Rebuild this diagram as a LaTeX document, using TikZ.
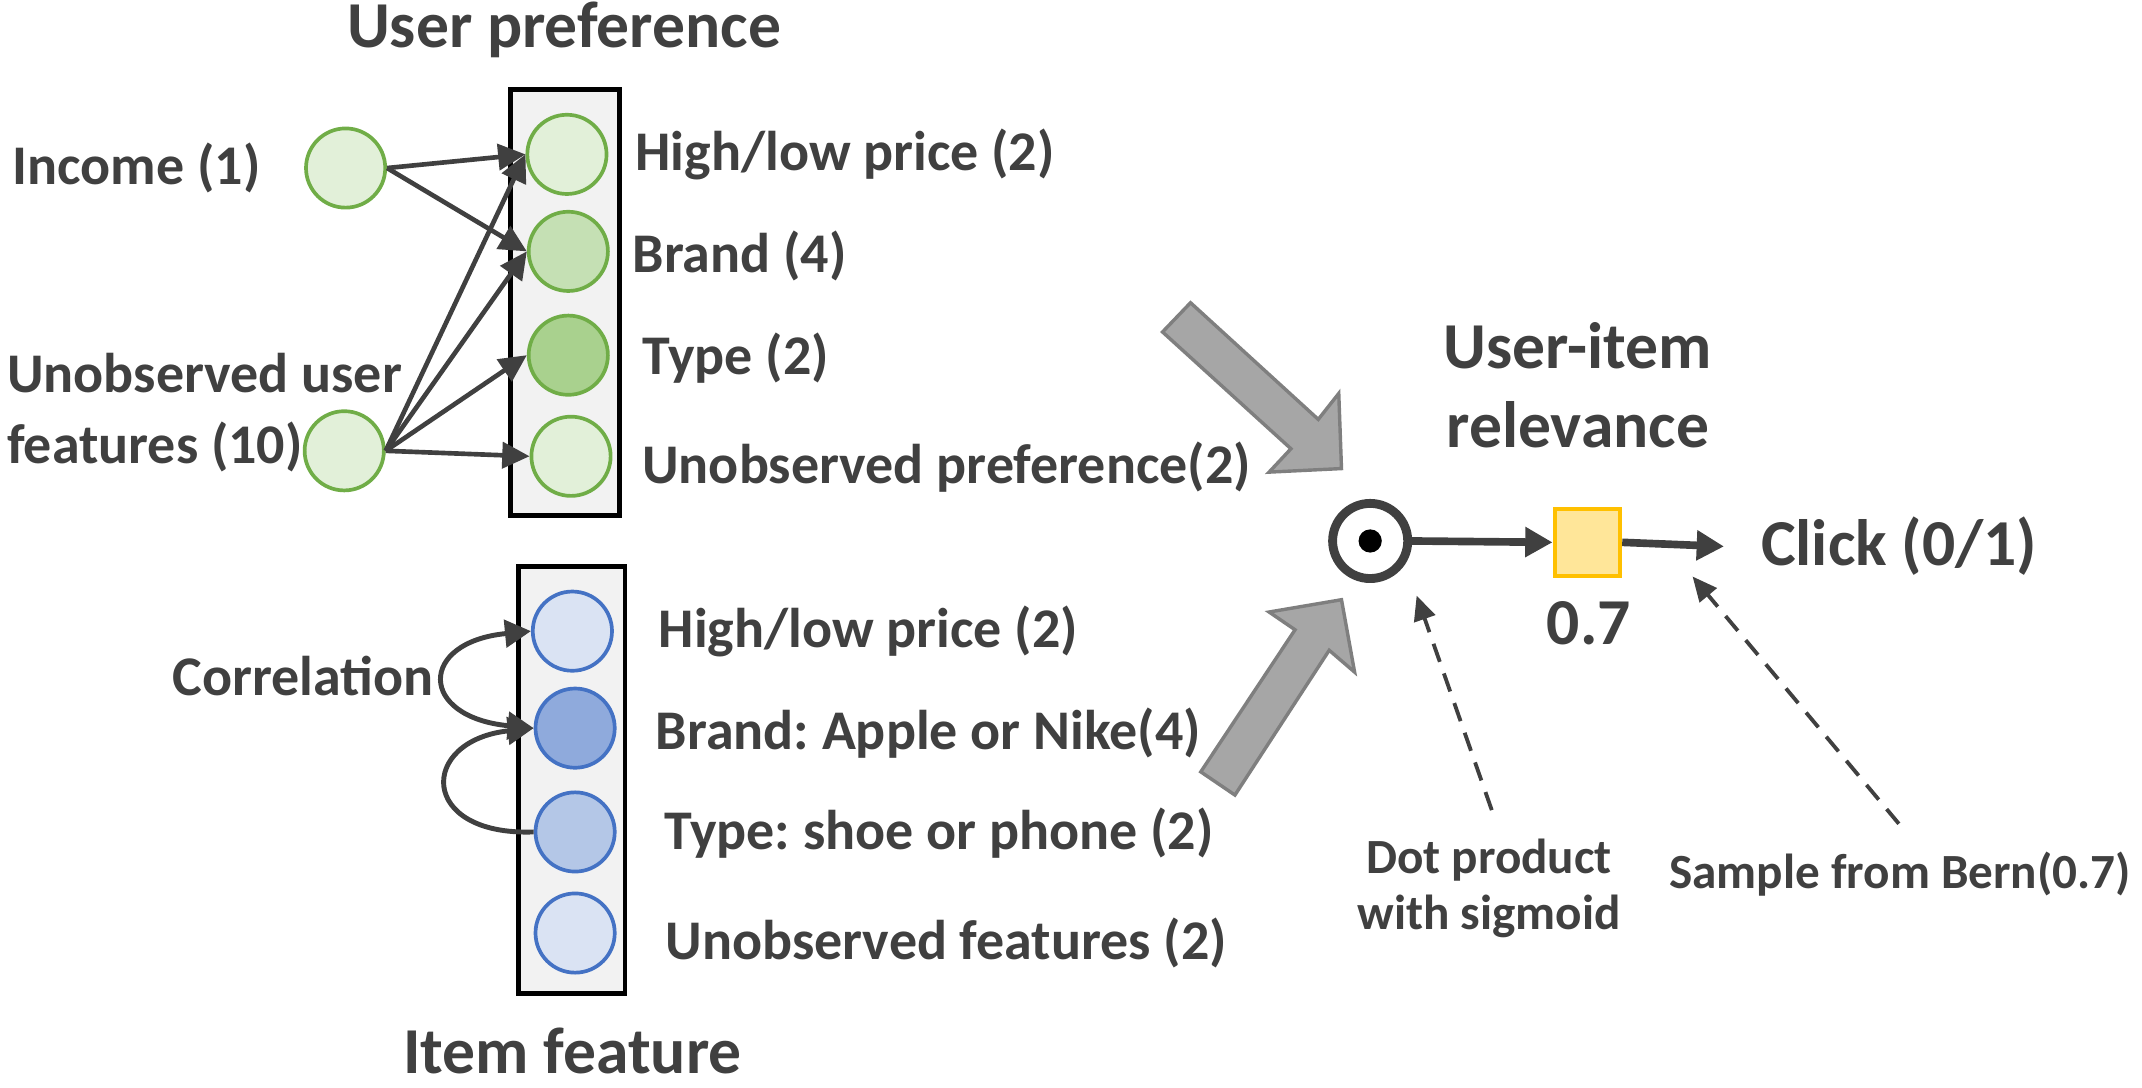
\documentclass[tikz,border=0pt]{standalone}
\usepackage{fontspec}
\setmainfont{Carlito}
\usetikzlibrary{arrows.meta}
\frenchspacing
\definecolor{txt}{HTML}{404040}
\definecolor{gline}{HTML}{70AD47}
\definecolor{gA}{HTML}{E2F0D9}
\definecolor{gB}{HTML}{C5E0B4}
\definecolor{gC}{HTML}{A9D18E}
\definecolor{bline}{HTML}{4472C4}
\definecolor{bA}{HTML}{DAE3F3}
\definecolor{bB}{HTML}{8FAADC}
\definecolor{bC}{HTML}{B4C7E7}
\definecolor{boxfill}{HTML}{F2F2F2}
\definecolor{bigfill}{HTML}{A6A6A6}
\definecolor{bigline}{HTML}{7F7F7F}
\definecolor{yfill}{HTML}{FFE699}
\definecolor{yline}{HTML}{FFC000}
\begin{document}
\begin{tikzpicture}[x=1pt,y=-1pt,
  lbl/.style={text=txt,font=\fontsize{41}{52}\selectfont\bfseries,inner sep=0pt},
  big/.style={text=txt,font=\fontsize{48}{58}\selectfont\bfseries,inner sep=0pt},
  small/.style={text=txt,font=\fontsize{36}{41}\selectfont\bfseries,inner sep=0pt},
  gc/.style={circle,draw=gline,line width=2.7pt,minimum size=58pt,inner sep=0pt},
  bc/.style={circle,draw=bline,line width=2.7pt,minimum size=58pt,inner sep=0pt},
  vbox/.style={draw=black,fill=boxfill,line width=3.5pt,inner sep=0pt},
  conn/.style={draw=txt,line width=3.4pt,-{Triangle[length=20pt,width=19pt]}},
  corr/.style={draw=txt,line width=3.6pt,-{Triangle[length=19pt,width=20pt]}},
  thick conn/.style={draw=txt,line width=5.6pt,-{Triangle[length=20pt,width=21pt]}},
  dconn/.style={draw=txt,line width=2.8pt,dash pattern=on 14pt off 9pt,-{Triangle[length=18pt,width=16pt]}},
  blockarrow/.style={fill=bigfill,draw=bigline,line width=2.5pt,line join=miter}
]
\useasboundingbox (0,0) rectangle (1568,796);

% titles
\node[big] (t1) at (413,22) {User preference};
\node[big] (t2) at (419,769) {Item feature};

% upper box
\node[vbox,minimum width=80pt,minimum height=312pt] (ubox) at (413.5,221.5) {};
\node[gc,fill=gA] (u1) at (415,113) {};
\node[gc,fill=gB] (u2) at (416,184) {};
\node[gc,fill=gC] (u3) at (416,260) {};
\node[gc,fill=gA] (u4) at (418,334) {};

\node[gc,fill=gA] (inc) at (253,123) {};
\node[gc,fill=gA] (unob) at (252,330) {};

\node[lbl,anchor=west] (linc) at (9,123) {Income (1)};
\node[lbl,anchor=west,align=left] (lunob) at (5,302) {Unobserved user\\features (10)};

\node[lbl,anchor=west] (lu1) at (465,113) {High/low price (2)};
\node[lbl,anchor=west] (lu2) at (463,187) {Brand (4)};
\node[lbl,anchor=west] (lu3) at (470,262) {Type (2)};
\node[lbl,anchor=west] (lu4) at (470,342) {Unobserved preference(2)};

\draw[conn] (inc.east) -- (u1.west);
\draw[conn] (inc.east) -- (u2.west);
\draw[conn] (unob.east) -- (u1.west);
\draw[conn] (unob.east) -- (u2.west);
\draw[conn] (unob.east) -- (u3.west);
\draw[conn] (unob.east) -- (u4.west);

% lower box
\node[vbox,minimum width=78pt,minimum height=313pt] (lbox) at (418.5,571) {};
\node[bc,fill=bA] (i1) at (419,462) {};
\node[bc,fill=bB] (i2) at (421,533) {};
\node[bc,fill=bC] (i3) at (421,609) {};
\node[bc,fill=bA] (i4) at (421,683) {};

\node[lbl,anchor=west] (li1) at (482,462) {High/low price (2)};
\node[lbl,anchor=west] (li2) at (480,537) {Brand: Apple or Nike(4)};
\node[lbl,anchor=west] (li3) at (486,610) {Type: shoe or phone (2)};
\node[lbl,anchor=west] (li4) at (487,690) {Unobserved features (2)};
\node[lbl] (lcorr) at (222,495) {Correlation};

\draw[corr,{Triangle[length=19pt,width=20pt]}-{Triangle[length=19pt,width=20pt]}]
  (i1.west) .. controls (306,470) and (306,525) .. (i2.west);
\draw[corr] (i3.west) .. controls (306,612) and (306,542) .. (i2.west);

% big block arrows
\draw[blockarrow] (851,243) -- (871.5,221.6) -- (965,307) -- (980,288) -- (982,343) -- (929,345.6) -- (945,328.5) -- cycle;
\draw[blockarrow] (879,565) -- (948,461) -- (929,448) -- (982,439) -- (991.6,492) -- (973,476) -- (904,582) -- cycle;

% relevance part
\node[big,align=center] (rel) at (1155,282) {User-item\\relevance};
\node[circle,draw=txt,line width=6.5pt,minimum size=55pt,inner sep=0pt] (dot) at (1003,396) {};
\fill[black] (dot.center) circle (8.5pt);
\node[draw=yline,fill=yfill,line width=3pt,minimum width=48pt,minimum height=49pt,inner sep=0pt] (yb) at (1162,397) {};
\node[big] (p7) at (1163,456) {0.7};
\node[big,anchor=west] (click) at (1289,400) {Click (0/1)};

\draw[thick conn] (dot.east) -- (yb.west);
\draw[thick conn] (yb.east) -- ([xshift=-27pt]click.west);

\node[small,align=center] (dp) at (1090,650) {Dot product\\with sigmoid};
\node[small] (bern) at (1391,640) {Sample from Bern(0.7)};

\coordinate (d1s) at (1092,593);
\coordinate (d1e) at (1037,436);
\coordinate (d2s) at (1390,603);
\coordinate (d2e) at (1239,422);
\draw[dconn] (d1s) -- (d1e);
\draw[dconn] (d2s) -- (d2e);
\end{tikzpicture}
\end{document}
